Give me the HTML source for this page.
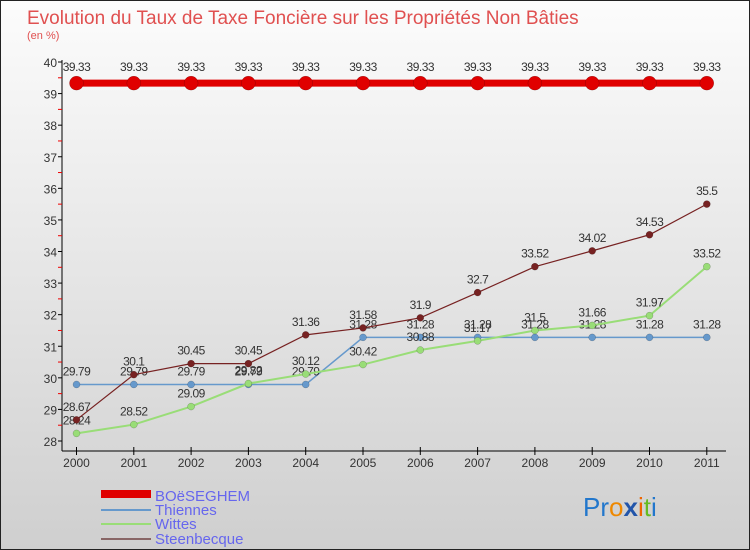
<!DOCTYPE html>
<html><head><meta charset="utf-8"><style>
body{margin:0}
#c{width:750px;height:550px;position:relative;overflow:hidden;font-family:"Liberation Sans",sans-serif;background:linear-gradient(#fcfcfc,#cfcfcf);box-sizing:border-box;border:1px solid #222}
</style></head><body>
<div id="c">
<svg id="s" width="750" height="550" style="position:absolute;left:0;top:0" font-family="Liberation Sans, sans-serif">
<text x="26" y="23" font-size="19" fill="#e05050">Evolution du Taux de Taxe Foncière sur les Propriétés Non Bâties</text>
<text x="26" y="38" font-size="11" fill="#e05050">(en %)</text>
<g id="axes"></g><g id="series"></g>
<g>
<rect x="100" y="489" width="50" height="8" fill="#e00000"/>
<text x="154" y="500" font-size="15" fill="#6666ee">BOëSEGHEM</text>
<rect x="100" y="508" width="50" height="2" fill="#6699cc"/>
<text x="154" y="514" font-size="15" fill="#6666ee">Thiennes</text>
<rect x="100" y="522" width="50" height="2" fill="#99dd77"/>
<text x="154" y="528" font-size="15" fill="#6666ee">Wittes</text>
<rect x="100" y="537" width="50" height="2" fill="#886666"/>
<text x="154" y="543" font-size="15" fill="#6666ee">Steenbecque</text>
</g>
<text x="582" y="515" font-size="26"><tspan fill="#2277cc">Pr</tspan><tspan fill="#ee8800">o</tspan><tspan fill="#2255aa" font-weight="bold">x</tspan><tspan fill="#ee6600">i</tspan><tspan fill="#66bb22">t</tspan><tspan fill="#2277cc">i</tspan></text>
</svg>
</div>
<script>
const years=["2000","2001","2002","2003","2004","2005","2006","2007","2008","2009","2010","2011"];
const yTicks=[28,29,30,31,32,33,34,35,36,37,38,39,40];
const boeseghem=[39.33,39.33,39.33,39.33,39.33,39.33,39.33,39.33,39.33,39.33,39.33,39.33];
const thiennes=[29.79,29.79,29.79,29.79,29.79,31.28,31.28,31.28,31.28,31.28,31.28,31.28];
const wittes=[28.24,28.52,29.09,29.82,30.12,30.42,30.88,31.17,31.5,31.66,31.97,33.52];
const steenbecque=[28.67,30.1,30.45,30.45,31.36,31.58,31.9,32.7,33.52,34.02,34.53,35.5];
const NS="http://www.w3.org/2000/svg";
const X=i=>75.5+i*57.3;
const Y=v=>440-(v-28)*(379/12);
function mk(t,a,p){const e=document.createElementNS(NS,t);for(const k in a)e.setAttribute(k,a[k]);p.appendChild(e);return e;}
const ax=document.getElementById('axes');
mk('line',{x1:61,y1:59,x2:61,y2:450,stroke:'#000','stroke-width':1},ax);
mk('line',{x1:61,y1:450,x2:725,y2:450,stroke:'#000','stroke-width':1},ax);
yTicks.forEach((v,i)=>{
 mk('line',{x1:57,y1:Y(v),x2:61,y2:Y(v),stroke:'#000'},ax);
 if(i<yTicks.length-1)mk('line',{x1:57,y1:Y(v+0.5),x2:61,y2:Y(v+0.5),stroke:'#e00'},ax);
 const t=mk('text',{x:56,y:Y(v)+5,'font-size':12,fill:'#333','text-anchor':'end'},ax);
 
 
 t.textContent=v;
});
years.forEach((y,i)=>{
 mk('line',{x1:X(i),y1:446,x2:X(i),y2:454,stroke:'#000'},ax);
 const t=mk('text',{x:X(i),y:466,'font-size':12,fill:'#333','text-anchor':'middle'},ax);
 
 
 t.textContent=y;
});
const sg=document.getElementById('series');
function draw(name,data,color,w,r,labelOff){
 const g=mk('g',{},sg);
 
 
 mk('polyline',{points:data.map((v,i)=>X(i)+','+Y(v)).join(' '),fill:'none',stroke:color,'stroke-width':w},g);
 data.forEach((v,i)=>{
  const c=mk('circle',{cx:X(i),cy:Y(v),r:r,fill:color,stroke:'rgba(0,0,0,0.3)','stroke-width':0.5},g);
  
  
  const t=mk('text',{x:X(i),y:Y(v)+labelOff,'font-size':12,fill:'#333','text-anchor':'middle','letter-spacing':'-0.5'},g);
  
  
  t.textContent=v;
 });
}
draw('thiennes',thiennes,'#6699cc',1.5,3.5,-9);
draw('wittes',wittes,'#99dd77',2,3.5,-9);
draw('steenbecque',steenbecque,'#772222',1.2,3.5,-9);
draw('boeseghem',boeseghem,'#e00000',7,7,-12);
</script>
</body></html>
